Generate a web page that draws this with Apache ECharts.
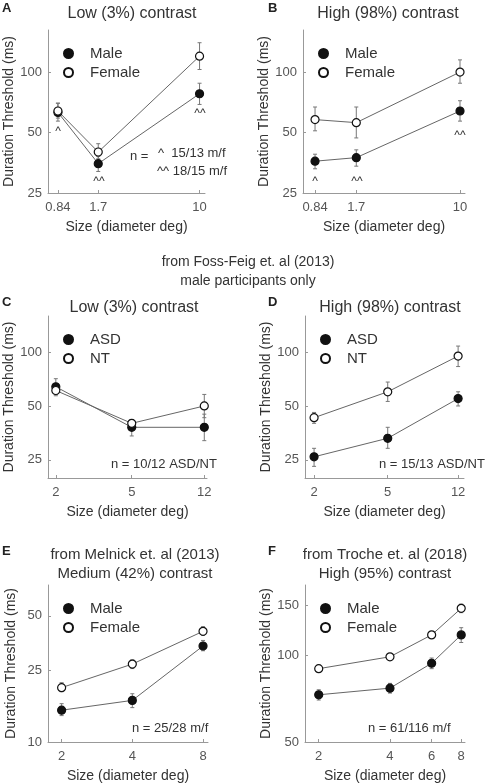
<!DOCTYPE html>
<html><head><meta charset="utf-8">
<script src="https://cdn.jsdelivr.net/npm/echarts@6/dist/echarts.min.js"></script>
<style>html,body{margin:0;padding:0;background:#fff}#c{width:496px;height:784px}</style>
</head><body><div id="c"></div>
<script>
// ---- data ----
const sizesAB = [0.84, 1.7, 10];
const A_male = [63, 35, 78], A_maleLo = [57, 32, 69], A_maleHi = [70, 38, 88];
const A_fem = [64, 40, 120], A_femLo = [59, 37, 103], A_femHi = [70, 44, 140];
const B_male = [36, 37.5, 64], B_maleLo = [33, 34, 57], B_maleHi = [39, 41, 72];
const B_fem = [58, 56, 100], B_femLo = [51, 47, 88], B_femHi = [67, 67, 115];
const sizesCD = [2, 5, 12];
const C_asd = [64, 38, 38], C_asdLo = [58, 34, 32], C_asdHi = [71, 42, 45];
const C_nt = [61, 40, 50], C_ntLo = [57, 37, 43], C_ntHi = [66, 42, 58];
const D_asd = [26, 33, 55], D_asdLo = [23, 29, 50], D_asdHi = [29, 38, 60];
const D_nt = [43, 60, 95], D_ntLo = [40, 53, 83], D_ntHi = [46, 68, 108];
const sizesE = [2, 4, 8];
const E_male = [15, 17, 34], E_maleLo = [14, 15.5, 32], E_maleHi = [16.3, 18.5, 36.5];
const E_fem = [20, 27, 41], E_femLo = [19, 25.5, 39], E_femHi = [21.3, 28.5, 43.5];
const sizesF = [2, 4, 6, 8];
const F_male = [73, 77, 94, 118], F_maleLo = [70, 74, 90, 111], F_maleHi = [76, 80, 98, 125];
const F_fem = [90, 99, 118, 146], F_femLo = [88, 97, 115, 141], F_femHi = [92, 101, 121, 151];
const xTicksAB = [0.84, 1.7, 10], xTicksCD = [2, 5, 12], xTicksE = [2, 4, 8], xTicksF = [2, 4, 6, 8];
const yTicksABCD = [25, 50, 100], yTicksE = [10, 25, 50], yTicksF = [50, 100, 150];

const L = Math.log10;
const FONT = 'Liberation Sans, Arial, sans-serif';
const TXT = '#333';
const panels = [
  {key:'A', grid:{left:48, top:30, width:157, height:163}, x:[0.706, 11], y:[25, 162], xt:xTicksAB, yt:yTicksABCD,
   sizes:sizesAB, s:[['Male',A_male,A_maleLo,A_maleHi,true],['Female',A_fem,A_femLo,A_femHi,false]]},
  {key:'B', grid:{left:303, top:30, width:162, height:163}, x:[Math.pow(10,-0.165), Math.pow(10,1.037)], y:[25, 162], xt:xTicksAB, yt:yTicksABCD,
   sizes:sizesAB, s:[['Male',B_male,B_maleLo,B_maleHi,true],['Female',B_fem,B_femLo,B_femHi,false]]},
  {key:'C', grid:{left:48, top:316, width:159, height:162}, x:[1.82, 12.4], y:[19.8, 159], xt:xTicksCD, yt:yTicksABCD,
   sizes:sizesCD, s:[['ASD',C_asd,C_asdLo,C_asdHi,true],['NT',C_nt,C_ntLo,C_ntHi,false]]},
  {key:'D', grid:{left:305, top:316, width:159, height:162}, x:[Math.pow(10,0.252), Math.pow(10,1.111)], y:[19.8, 159], xt:xTicksCD, yt:yTicksABCD,
   sizes:sizesCD, s:[['ASD',D_asd,D_asdLo,D_asdHi,true],['NT',D_nt,D_ntLo,D_ntHi,false]]},
  {key:'E', grid:{left:48, top:585, width:160, height:163}, x:[1.75, 8.4], y:[10, 74], xt:xTicksE, yt:yTicksE,
   sizes:sizesE, s:[['Male',E_male,E_maleLo,E_maleHi,true],['Female',E_fem,E_femLo,E_femHi,false]]},
  {key:'F', grid:{left:305, top:585, width:160, height:162}, x:[1.75, 8.3], y:[50, 176], xt:xTicksF, yt:yTicksF,
   sizes:sizesF, s:[['Male',F_male,F_maleLo,F_maleHi,true],['Female',F_fem,F_femLo,F_femHi,false]]}
];

function fmt(ticks){ return v => { let best=ticks[0]; ticks.forEach(t=>{ if(Math.abs(L(t)-v)<Math.abs(L(best)-v)) best=t; }); return String(best); }; }

const grid=[], xAxis=[], yAxis=[], series=[], legend=[];
panels.forEach((p,i)=>{
  grid.push(p.grid);
  xAxis.push({type:'value', gridIndex:i, min:L(p.x[0]), max:L(p.x[1]),
    name:'Size (diameter deg)', nameLocation:'middle', nameGap:27,
    nameTextStyle:{fontFamily:FONT, fontSize:14, color:TXT},
    axisLine:{onZero:false, lineStyle:{color:'#999'}}, splitLine:{show:false},
    axisTick:{customValues:p.xt.map(L), length:3, inside:true, lineStyle:{color:'#999'}},
    axisLabel:{customValues:p.xt.map(L), formatter:fmt(p.xt), fontFamily:FONT, fontSize:13, color:'#555', margin:8}});
  yAxis.push({type:'value', gridIndex:i, min:L(p.y[0]), max:L(p.y[1]),
    name:'Duration Threshold (ms)', nameLocation:'middle', nameGap:30,
    nameTextStyle:{fontFamily:FONT, fontSize:14, color:TXT},
    axisLine:{show:true, onZero:false, lineStyle:{color:'#999'}}, splitLine:{show:false},
    axisTick:{customValues:p.yt.map(L), length:3, inside:true, lineStyle:{color:'#999'}},
    axisLabel:{customValues:p.yt.map(L), formatter:fmt(p.yt), fontFamily:FONT, fontSize:13, color:'#555', margin:6}});
  const names=[];
  p.s.forEach(([nm,vals,lo,hi,filled])=>{
    names.push(nm);
    series.push({type:'custom', xAxisIndex:i, yAxisIndex:i, silent:true, z:1,
      data:p.sizes.map((s,k)=>[L(s), L(lo[k]), L(hi[k])]),
      renderItem:(params,api)=>{
        const a=api.coord([api.value(0),api.value(1)]), b=api.coord([api.value(0),api.value(2)]);
        const st={stroke:'#777', lineWidth:1};
        return {type:'group', children:[
          {type:'line', shape:{x1:a[0],y1:a[1],x2:b[0],y2:b[1]}, style:st},
          {type:'line', shape:{x1:a[0]-2,y1:a[1],x2:a[0]+2,y2:a[1]}, style:st},
          {type:'line', shape:{x1:b[0]-2,y1:b[1],x2:b[0]+2,y2:b[1]}, style:st}]};
      }});
    series.push({type:'line', name:nm, xAxisIndex:i, yAxisIndex:i, z:3,
      data:p.sizes.map((s,k)=>[L(s), L(vals[k])]),
      symbol:'circle', symbolSize:8,
      lineStyle:{color:'#666', width:1},
      itemStyle:{color: filled?'#111':'#fff', borderColor:'#111', borderWidth:1.2}});
  });
  legend.push({data:names, orient:'vertical', left:p.grid.left+10, top:p.grid.top+11,
    itemGap:4, itemWidth:9, itemHeight:9, icon:'circle', selectedMode:false,
    textStyle:{fontFamily:FONT, fontSize:15, color:TXT, padding:[0,0,0,12]}});
});

const T = (x,y,text,size,extra)=>Object.assign({type:'text', x, y, style:{text, fontFamily:FONT, fontSize:size||14, fill:TXT, textAlign:'center'}}, extra||{});
const graphic = [
  {type:'text', left:2, top:2, style:{text:'A', fontFamily:FONT, fontSize:13, fontWeight:'bold', fill:'#222'}},
  {type:'text', left:268, top:2, style:{text:'B', fontFamily:FONT, fontSize:13, fontWeight:'bold', fill:'#222'}},
  {type:'text', left:2, top:296, style:{text:'C', fontFamily:FONT, fontSize:13, fontWeight:'bold', fill:'#222'}},
  {type:'text', left:268, top:296, style:{text:'D', fontFamily:FONT, fontSize:13, fontWeight:'bold', fill:'#222'}},
  {type:'text', left:2, top:545, style:{text:'E', fontFamily:FONT, fontSize:13, fontWeight:'bold', fill:'#222'}},
  {type:'text', left:268, top:545, style:{text:'F', fontFamily:FONT, fontSize:13, fontWeight:'bold', fill:'#222'}},
  T(132,6,'Low (3%) contrast',16), T(388,6,'High (98%) contrast',16),
  T(248,255,'from Foss-Feig et. al (2013)',14), T(248,274,'male participants only',14),
  T(134,300,'Low (3%) contrast',16), T(390,300,'High (98%) contrast',16),
  T(135,547,'from Melnick et. al (2013)',15), T(135,566,'Medium (42%) contrast',15),
  T(385,547,'from Troche et. al (2018)',15), T(385,566,'High (95%) contrast',15),
  T(58,126,'^',12), T(99,176,'^^',12), T(200,108,'^^',12),
  {type:'text', left:130, top:150, style:{text:'n =', fontFamily:FONT, fontSize:13, fill:TXT}},
  {type:'text', left:158, top:147, style:{text:'^  15/13 m/f', fontFamily:FONT, fontSize:13, fill:TXT}},
  {type:'text', left:157, top:165, style:{text:'^^ 18/15 m/f', fontFamily:FONT, fontSize:13, fill:TXT}},
  T(315,176,'^',12), T(357,176,'^^',12), T(460,130,'^^',12),
  {type:'text', left:111, top:458, style:{text:'n = 10/12 ASD/NT', fontFamily:FONT, fontSize:13, fill:TXT}},
  {type:'text', left:379, top:458, style:{text:'n = 15/13 ASD/NT', fontFamily:FONT, fontSize:13, fill:TXT}},
  {type:'text', left:132, top:722, style:{text:'n = 25/28 m/f', fontFamily:FONT, fontSize:13, fill:TXT}},
  {type:'text', left:368, top:722, style:{text:'n = 61/116 m/f', fontFamily:FONT, fontSize:13, fill:TXT}}
];

const chart = echarts.init(document.getElementById('c'), null, {renderer:'canvas'});
chart.setOption({animation:false, backgroundColor:'#fff', grid, xAxis, yAxis, series, legend, graphic});
</script></body></html>
